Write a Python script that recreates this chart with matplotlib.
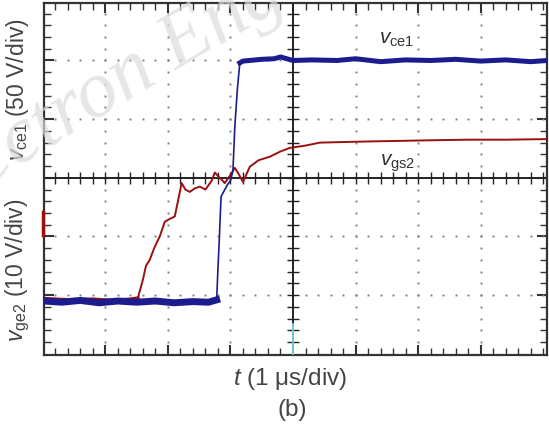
import numpy as np
import matplotlib
matplotlib.use("Agg")
import matplotlib.pyplot as plt

plt.rcParams['font.family'] = ['Liberation Sans', 'DejaVu Sans']
plt.rcParams['mathtext.fontset'] = 'custom'
plt.rcParams['mathtext.rm'] = 'Liberation Sans'
plt.rcParams['mathtext.it'] = 'Liberation Sans:italic'

# traces, in scope divisions (x: 1 us/div, y: divisions from centre line)
vce1_t = [-3.98, -3.7, -3.4, -3.1, -2.8, -2.5, -2.2, -1.9, -1.6, -1.35, -1.22,
          -1.2, -1.18, -1.15, -1.1, -1.05, -1.0, -0.96, -0.93, -0.89, -0.85,
          -0.8, -0.7, -0.5, -0.3, -0.2, -0.1, 0.0, 0.3, 0.7, 1.0, 1.4, 1.8,
          2.2, 2.6, 3.0, 3.4, 3.8, 4.06]
vce1_v = [-2.1, -2.12, -2.09, -2.13, -2.1, -2.12, -2.1, -2.13, -2.11, -2.12, -2.08,
          -1.55, -1.1, -0.32, -0.22, -0.12, -0.05, 0.12, 0.87, 1.5, 1.96,
          1.99, 2.0, 2.02, 2.03, 2.06, 2.03, 2.0, 2.01, 2.0, 2.03, 1.98, 2.01,
          2.0, 2.02, 1.99, 2.01, 1.98, 2.0]

vgs2_t = [-3.98, -3.6, -3.2, -2.9, -2.6, -2.48, -2.4, -2.35, -2.29, -2.22, -2.13,
          -2.05, -1.97, -1.89, -1.83, -1.78, -1.72, -1.65, -1.57, -1.49, -1.4,
          -1.3, -1.25, -1.17, -1.09, -1.0, -0.93, -0.86, -0.8, -0.69, -0.55,
          -0.37, -0.2, -0.05, 0.2, 0.43, 0.8, 1.2, 1.71, 2.2, 2.8, 3.4, 4.06]
vgs2_v = [-2.06, -2.08, -2.07, -2.09, -2.07, -2.05, -1.74, -1.5, -1.4, -1.2, -1.0,
          -0.75, -0.7, -0.66, -0.35, -0.09, -0.2, -0.24, -0.18, -0.15, -0.2,
          -0.05, 0.09, 0.0, -0.09, 0.05, 0.17, 0.05, -0.07, 0.19, 0.3,
          0.36, 0.45, 0.51, 0.55, 0.6, 0.61, 0.62, 0.63, 0.64, 0.65, 0.65, 0.66]

blue = '#1c1c8e'
red = '#9a1010'

fig = plt.figure(figsize=(5.49, 4.26), dpi=100)
ax = fig.add_axes([44 / 549, 71 / 426, 503 / 549, 352 / 426])
ax.set_xlim(-3.98, 4.06)
ax.set_ylim(-3.02, 2.98)

# dotted graticule
minor_x = np.arange(-3.8, 4.01, 0.2)
minor_y = np.arange(-2.8, 2.81, 0.2)
for gx in [-3, -2, -1, 1, 2, 3]:
    ax.plot(np.full(minor_y.size, gx), minor_y, ls='none', marker='s', ms=1.4,
            color='#808080', mew=0)
for gy in [-2, -1, 1, 2]:
    ax.plot(minor_x, np.full(minor_x.size, gy), ls='none', marker='s', ms=1.4,
            color='#808080', mew=0)

# centre cross with ticks
ax.axhline(0, color='#222222', lw=1.4, zorder=2)
ax.axvline(0, color='#222222', lw=1.4, zorder=2)
ax.plot(minor_x, np.zeros(minor_x.size), ls='none', marker='|', ms=8, mew=1.0,
        color='#222222', zorder=2)
ax.plot(np.zeros(minor_y.size), minor_y, ls='none', marker='_', ms=8, mew=1.0,
        color='#222222', zorder=2)

ax.set_xticks(np.arange(-3, 4, 1))
ax.set_xticks(minor_x, minor=True)
ax.set_yticks(np.arange(-2, 3, 1))
ax.set_yticks(minor_y, minor=True)
ax.tick_params(which='both', direction='in', top=True, right=True,
               labelbottom=False, labelleft=False, color='#333333')
ax.tick_params(which='major', length=7, width=1.5)
ax.tick_params(which='minor', length=5, width=1.0)
for s in ax.spines.values():
    s.set_linewidth(1.6)
    s.set_color('#333333')

# traces
ax.plot(vgs2_t, vgs2_v, color=red, lw=1.4, zorder=3)
ax.plot(vgs2_t[:6], vgs2_v[:6], color=red, lw=2.6, zorder=3)
ax.plot(vce1_t, vce1_v, color=blue, lw=1.2, zorder=4)
ax.plot(vce1_t[:11], vce1_v[:11], color=blue, lw=5.0, zorder=4)
ax.plot(vce1_t[20:], vce1_v[20:], color=blue, lw=3.6, zorder=4)

# channel markers
ax.plot([-3.99, -3.99], [-0.58, -0.97], color=red, lw=2.5, clip_on=False, zorder=5)
ax.plot([0, 0], [-2.5, -3.0], color='#7fe8f0', lw=1.2, zorder=5)

ax.text(1.65, 2.35, r'$v_{\rm ce1}$', fontsize=15, color='#333333',
        ha='center', va='center')
ax.text(1.68, 0.25, r'$v_{\rm gs2}$', fontsize=15, color='#333333',
        ha='center', va='center')

fig.text(18 / 549, 1 - 90 / 426, r'$v_{\rm ce1}$ (50 V/div)', rotation=90,
         fontsize=16.5, color='#444444', ha='center', va='center')
fig.text(18 / 549, 1 - 270 / 426, r'$v_{\rm ge2}$ (10 V/div)', rotation=90,
         fontsize=16.5, color='#444444', ha='center', va='center')
fig.text(290 / 549, 1 - 379 / 426, r'$t$ (1 μs/div)', fontsize=17.5,
         color='#444444', ha='center', va='center')
fig.text(292 / 549, 1 - 410 / 426, '(b)', fontsize=17.5,
         color='#444444', ha='center', va='center')

# watermark
fig.text(-75 / 549, 1 - 222 / 426, 'Electron Eng', rotation=31,
         rotation_mode='anchor', fontsize=58, style='italic',
         family='Liberation Serif', color='#dcdcdc', alpha=0.7,
         ha='left', va='baseline', zorder=10)

fig.savefig('out.png', dpi=100)
